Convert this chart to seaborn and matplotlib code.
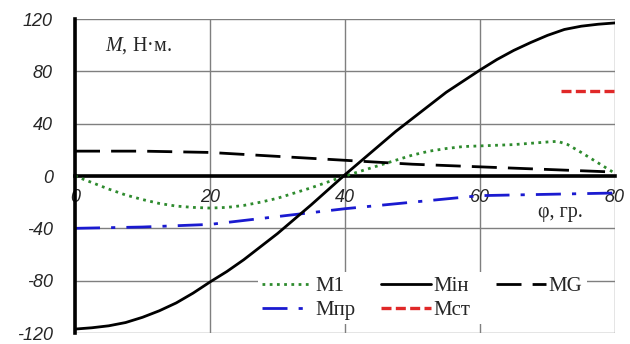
import numpy as np
import pandas as pd
import matplotlib
matplotlib.use("Agg")
import matplotlib.pyplot as plt
import seaborn as sns

# ---- data ----
phi_in = [0, 2.5, 5, 7.5, 10, 12.5, 15, 17.5, 20, 22.5, 25, 27.5, 30, 32.5, 35, 37.5, 40,
          42.5, 45, 47.5, 50, 52.5, 55, 57.5, 60, 62.5, 65, 67.5, 70, 72.5, 75, 77.5, 80]
M_in = [-117, -116, -114.5, -112, -108, -103, -97, -89.5, -81, -73, -64, -54, -44, -33, -22, -10.5, 1,
        12, 23, 34, 44, 54, 64, 72.5, 81, 89, 96, 102, 107.5, 112, 114.5, 116, 117]

phi_1 = [0, 2.5, 5, 7.5, 10, 12.5, 15, 17.5, 20, 22.5, 25, 27.5, 30, 32.5, 35, 37.5, 40,
         42.5, 45, 47.5, 50, 52.5, 55, 57.5, 60, 62.5, 65, 67.5, 70, 71.5, 73, 75, 77.5, 80]
M_1 = [0, -5, -10, -14.5, -18, -21, -23, -24, -24.5, -24, -22.5, -20, -17, -13, -9, -4.5, 0,
       4, 8, 12, 16, 19, 21, 22.5, 23, 23.5, 24, 25, 26, 26.5, 24, 18, 10, 2]

phi_G = [0, 10, 20, 30, 40, 50, 60, 70, 80]
M_G = [19, 19, 18, 15, 12, 9, 7, 5, 3]

phi_pr = [0, 10, 20, 30, 40, 50, 60, 70, 80]
M_pr = [-40, -39, -37, -31, -25, -20, -15, -14, -13]

phi_st = [72, 80]
M_st = [65, 65]

x_ticks = [0, 20, 40, 60, 80]
y_ticks = [-120, -80, -40, 0, 40, 80, 120]

sns.set_style("white")
plt.rcParams['font.family'] = ['Liberation Serif', 'DejaVu Sans']
plt.rcParams['mathtext.fontset'] = 'custom'
plt.rcParams['mathtext.it'] = 'Liberation Serif:italic'
plt.rcParams['mathtext.rm'] = 'Liberation Serif'

fig = plt.figure(figsize=(6.3, 3.44), dpi=100)
ax = fig.add_axes([75/630, 1-333/344, 540/630, 314/344])

grid_c = '#7f7f7f'
lw = 2.0

sns.lineplot(x=phi_1, y=M_1, ax=ax, color='#2e8b2e', lw=2.0, linestyle=(0, (1, 1.6)), label='M1')
sns.lineplot(x=phi_pr, y=M_pr, ax=ax, color='#1a1ad0', lw=lw, linestyle=(0, (9, 4, 1.5, 4)), label='Mпр')
sns.lineplot(x=phi_in, y=M_in, ax=ax, color='black', lw=lw, linestyle='-', label='Mін')
sns.lineplot(x=phi_st, y=M_st, ax=ax, color='#e02828', lw=2.4, linestyle=(0, (3, 1.3)), label='Mст')
sns.lineplot(x=phi_G, y=M_G, ax=ax, color='black', lw=lw, linestyle=(0, (9, 4)), label='MG')

ax.set_xlim(0, 80)
ax.set_ylim(-120, 120)
ax.set_xticks(x_ticks)
ax.set_yticks(y_ticks)
ax.grid(True, color=grid_c, lw=1.0)
ax.set_axisbelow(True)

for s in ['top', 'right']:
    ax.spines[s].set_visible(False)
ax.spines['left'].set_linewidth(2.6)
ax.spines['left'].set_color('black')
ax.spines['bottom'].set_position(('data', 0))
ax.spines['bottom'].set_linewidth(2.6)
ax.spines['bottom'].set_color('black')
ax.spines['bottom'].set_zorder(1.5)

ax.set_xticklabels([str(v) for v in x_ticks])
ax.set_yticklabels([str(v) for v in y_ticks])
for t in ax.get_xticklabels() + ax.get_yticklabels():
    t.set_fontfamily(['Liberation Sans', 'DejaVu Sans'])
    t.set_fontstyle('italic')
    t.set_fontsize(13)
ax.tick_params(axis='both', direction='inout', length=6, width=1.2, color='black')
ax.tick_params(axis='y', pad=13)
ax.tick_params(axis='x', pad=6)

ax.set_xlabel('')
ax.set_ylabel('')

ax.text(4.5, 100, r'$\mathit{M}$, Н·м.', fontsize=14.5, ha='left', va='center',
        family='Liberation Serif')
ax.text(75.2, -28, 'φ, гр.', fontsize=14.5, ha='right', va='center', family='Liberation Serif')

leg = ax.legend(loc='lower left', bbox_to_anchor=(0.32, -0.005), ncol=3, frameon=True,
                prop={'family': 'Liberation Serif', 'size': 15}, handlelength=2.4,
                handletextpad=0.15, columnspacing=1.2, labelspacing=0.2,
                borderpad=0.2, fancybox=False)
leg.get_frame().set_facecolor('white')
leg.get_frame().set_edgecolor('none')
leg.get_frame().set_alpha(1)

fig.savefig('out.png', dpi=100)
